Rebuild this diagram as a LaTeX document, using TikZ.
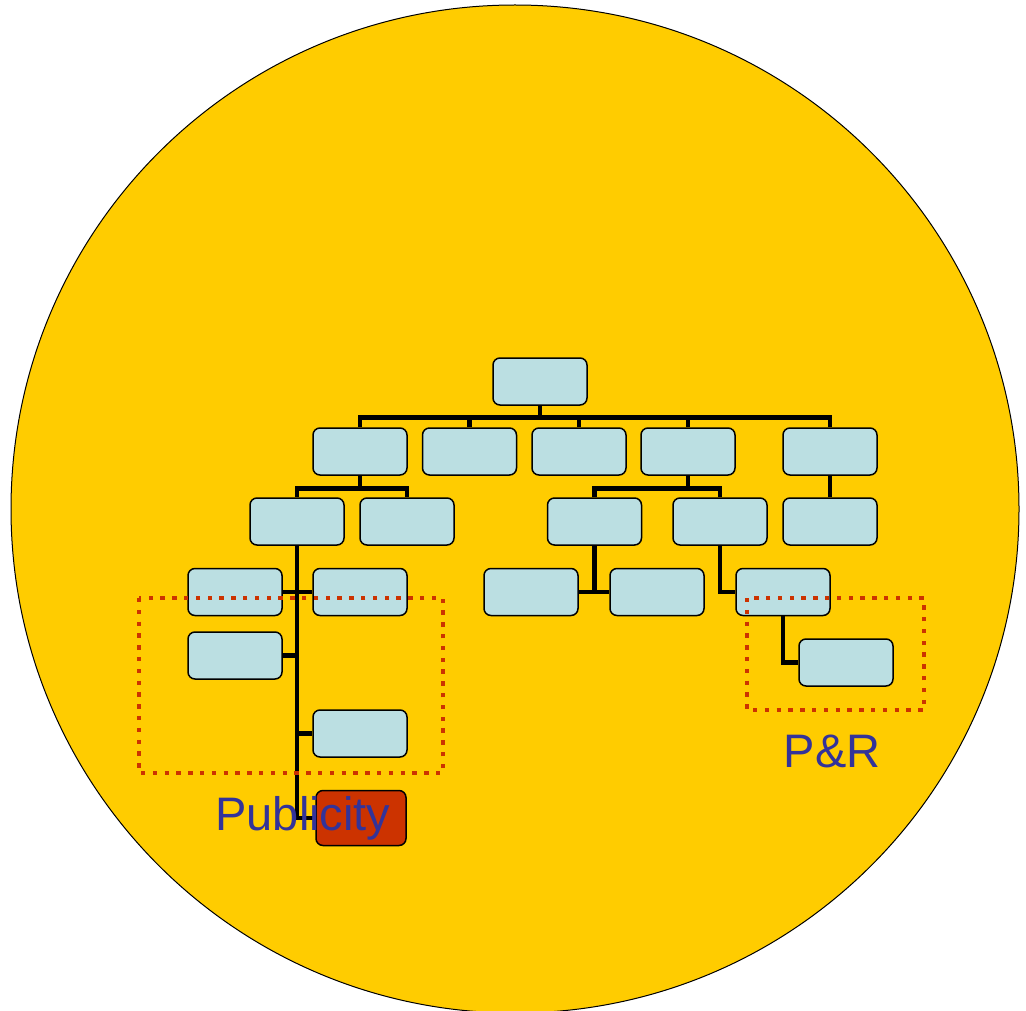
\documentclass[tikz,border=0pt]{standalone}
\usepackage{fontspec}
\setmainfont{Liberation Sans}
\usetikzlibrary{backgrounds}
\definecolor{discyellow}{HTML}{FFCC00}
\definecolor{boxblue}{HTML}{BBDFE2}
\definecolor{hotred}{HTML}{CC3300}
\definecolor{labelblue}{HTML}{333399}
\tikzset{
	unit/.style={draw=black, line width=1.5pt, fill=boxblue, rounded corners=7pt,
		minimum width=94pt, minimum height=47pt, inner sep=0pt},
	link/.style={draw=black, line width=4.6pt},
	frame/.style={draw=hotred, line width=4.4pt, dash pattern=on 4.4pt off 7.4pt},
	lbl/.style={text=labelblue, font=\fontsize{47}{52}\selectfont, inner sep=0pt}
}
\begin{document}
\begin{tikzpicture}[x=1pt, y=-1pt]
	\useasboundingbox (0,0) rectangle (1026,1011);
	%disc
	\begin{scope}[on background layer]
	\fill[white] (0,0) rectangle (1026,1011);
	\clip (0,0) rectangle (1026,1011);
	\draw[fill=discyellow, line width=1pt] (515,509) circle (504);
	\end{scope}
	%boxes
	\node[unit] (r) at (540,381.5) {};
	\node[unit] (a1) at (360,451.5) {};
	\node[unit] (a2) at (469.5,451.5) {};
	\node[unit] (a3) at (579,451.5) {};
	\node[unit] (a4) at (688,451.5) {};
	\node[unit] (a5) at (830,451.5) {};
	\node[unit] (b1) at (297,521.5) {};
	\node[unit] (b2) at (407,521.5) {};
	\node[unit] (b3) at (594.5,521.5) {};
	\node[unit] (b4) at (720,521.5) {};
	\node[unit] (b5) at (830,521.5) {};
	\node[unit] (c1) at (235,592) {};
	\node[unit] (c2) at (360,592) {};
	\node[unit] (c3) at (531,592) {};
	\node[unit] (c4) at (657,592) {};
	\node[unit] (c5) at (783,592) {};
	\node[unit] (d1) at (235,655.5) {};
	\node[unit] (d2) at (360,733.5) {};
	\node[unit] (d3) at (846,662.5) {};
	\node[unit, fill=hotred, minimum width=90pt, minimum height=55pt] (pub) at (361,818) {};
	%links
	\begin{scope}[on background layer]
	\foreach \c in {a1,a2,a3,a4,a5}
	\draw[link] (r.south) -- ++(0,12) -| (\c.north);
	\foreach \c in {b1,b2}
	\draw[link] (a1.south) -- ++(0,13) -| (\c.north);
	\foreach \c in {b3,b4}
	\draw[link] (a4.south) -- ++(0,13) -| (\c.north);
	\draw[link] (a5) -- (b5);
	\draw[link] (b1.south) |- (pub.west);
	\draw[link] (c1.east) -- (c2.west);
	\draw[link] (d1.east) -- (d1.east -| b1.south);
	\draw[link] (d2.west) -- (d2.west -| b1.south);
	\draw[link] (c3.east) -- (c4.west);
	\draw[link] (b3.south) -- (b3.south |- c3.east);
	\draw[link] (b4.south) |- (c5.west);
	\draw[link] (c5.south) |- (d3.west);
	\end{scope}
	%frames
	\draw[frame] (139,598) rectangle (443,773);
	\draw[frame] (747,598) rectangle (924,710);
	%labels
	\node[lbl] (publicity) at (303,818) {Publicity};
	\node[lbl] (pr) at (832,751) {P\&R};
\end{tikzpicture}
\end{document}
